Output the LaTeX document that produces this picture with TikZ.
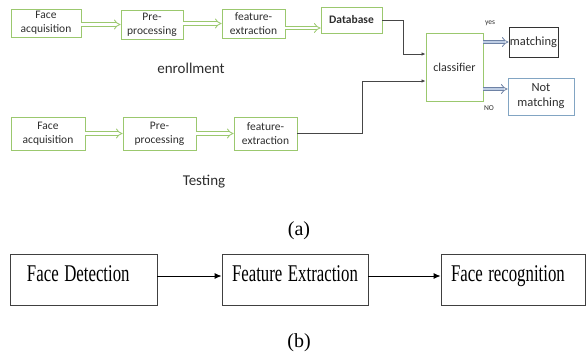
\documentclass[tikz,border=0pt]{standalone}
\usepackage{fontspec}
\setmainfont{Carlito}
\newfontfamily\serifc{Liberation Serif}
\usetikzlibrary{arrows.meta,calc}
\definecolor{boxgreen}{RGB}{155,200,110}
\definecolor{boxblue}{RGB}{130,165,195}
\definecolor{arrblue}{RGB}{110,130,165}
\definecolor{arrbluefill}{RGB}{190,205,228}
\definecolor{txtgray}{RGB}{45,45,45}
\definecolor{linegray}{RGB}{70,70,70}
\tikzset{
  gbox/.style={draw=boxgreen, line width=0.9pt, inner sep=1pt, align=center,
    text=txtgray, font=\fontsize{11.5}{14}\selectfont},
  garrow/.style={draw=boxgreen, double=white, double distance=2.6pt, line width=0.8pt, -{Implies[length=5pt]}},
  barrow/.style={draw=arrblue, double=arrbluefill, double distance=2.6pt, line width=0.8pt, -{Implies[length=5pt]}},
  conn/.style={draw=linegray, line width=0.9pt, -{Latex[length=4pt,width=3.5pt]}},
  bbox/.style={draw=black!75, line width=0.9pt, inner xsep=10pt, inner ysep=0pt,
    text height=16pt, text depth=13pt, align=left,
    font=\serifc\fontsize{24}{26}\selectfont},
  barr/.style={draw=black, line width=0.9pt, -{Latex[length=7pt,width=6pt]}},
  lab/.style={text=txtgray, inner sep=0pt}
}
\begin{document}
\begin{tikzpicture}[x=1pt,y=-1pt]
\useasboundingbox (0,0) rectangle (586,354);
% enrollment row
\node[gbox, minimum width=70pt, minimum height=28pt] (fa1) at (46,23) {Face\\acquisition};
\node[gbox, minimum width=62pt, minimum height=29pt] (pp1) at (152,24.5) {Pre-\\processing};
\node[gbox, minimum width=63pt, minimum height=29pt] (fe1) at (253.5,23.5) {feature-\\extraction};
\node[gbox, minimum width=61pt, minimum height=26pt, font=\bfseries\fontsize{11.5}{14}\selectfont] (db) at (351.5,20) {Database};
\node[gbox, minimum width=57pt, minimum height=68pt, font=\fontsize{12}{14}\selectfont] (cl) at (454.5,67) {classifier};
\node[gbox, draw=black!80, line width=0.9pt, minimum width=49pt, minimum height=30pt, font=\fontsize{12.5}{14}\selectfont] (mt) at (533.5,42) {matching};
\node[gbox, draw=boxblue, line width=0.9pt, minimum width=66pt, minimum height=37pt, font=\fontsize{12.5}{15}\selectfont] (nm) at (541,96.5) {Not\\matching};
% testing row
\node[gbox, minimum width=74pt, minimum height=33pt] (fa2) at (48,133.5) {Face\\acquisition};
\node[gbox, minimum width=73pt, minimum height=33pt] (pp2) at (159.5,133.5) {Pre-\\processing};
\node[gbox, minimum width=63pt, minimum height=33pt] (fe2) at (265.5,133.5) {feature-\\extraction};
% labels
\node[lab, font=\fontsize{15}{17}\selectfont] (enr) at (191,68) {enrollment};
\node[lab, font=\fontsize{15}{17}\selectfont] (tst) at (204,182) {Testing};
\node[lab, font=\fontsize{7.5}{9}\selectfont] (yes) at (490,23) {yes};
\node[lab, font=\fontsize{7.5}{9}\selectfont] (no) at (489,108) {NO};
\node[inner sep=0pt, font=\serifc\fontsize{20}{22}\selectfont] (la) at (299,231) {(a)};
\node[inner sep=0pt, font=\serifc\fontsize{20}{22}\selectfont] (lb) at (299,343) {(b)};
% arrows top
\coordinate (y28) at (0,28);
\coordinate (y89) at (0,89);
\draw[garrow] (fa1.east |- pp1.west) -- (pp1.west);
\draw[garrow] (pp1.east |- fe1.west) -- (fe1.west);
\draw[garrow] (fe1.east |- y28) -- (db.west |- y28);
\draw[garrow] (pp2.west -| fa2.east) -- (pp2.west);
\draw[garrow] (fe2.west -| pp2.east) -- (fe2.west);
\draw[barrow] (cl.east |- mt.west) -- (mt.west);
\draw[barrow] (cl.east |- y89) -- (nm.west |- y89);
\coordinate (k1) at (403,54);
\coordinate (k2) at (362,81);
\draw[conn] (db.east) -| (k1) -- (cl.west |- k1);
\draw[conn] (fe2.east) -| (k2) -- (cl.west |- k2);
% bottom row
\node[bbox, minimum width=147pt, minimum height=51pt, text width=113pt, inner xsep=17pt] (fd) at (83.5,279.5) {\scalebox{0.7}[1]{Face Detection}};
\node[bbox, minimum width=146pt, minimum height=51pt, text width=126pt] (fx) at (295,279.5) {\scalebox{0.7}[1]{Feature Extraction}};
\node[bbox, minimum width=144pt, minimum height=51pt, text width=124pt] (fr) at (513,279.5) {\scalebox{0.7}[1]{Face recognition}};
\coordinate (y276) at (0,276);
\draw[barr] (fd.east |- y276) -- (fx.west |- y276);
\draw[barr] (fx.east |- y276) -- (fr.west |- y276);
\end{tikzpicture}
\end{document}
